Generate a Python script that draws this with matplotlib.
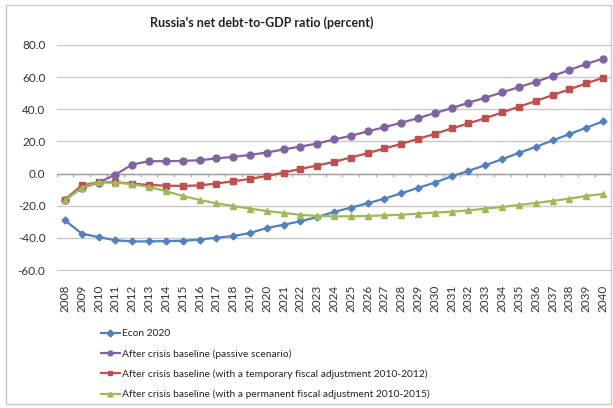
import matplotlib
matplotlib.use("Agg")
import matplotlib.pyplot as plt
from matplotlib.patches import Rectangle

years = list(range(2008, 2041))

econ_2020 = [-29.1, -37.4, -39.5, -41.5, -42.2, -42.2, -42.0, -41.8, -41.1, -39.9,
             -38.9, -37.0, -33.9, -31.8, -29.7, -27.0, -23.9, -21.2, -18.5, -15.6,
             -12.3, -8.9, -5.6, -1.7, 1.7, 5.2, 8.9, 12.9, 16.6, 20.6, 24.5, 28.5, 32.4]
passive = [-16.2, -9.0, -5.6, -0.6, 5.6, 7.7, 7.7, 7.9, 8.3, 9.4, 10.4, 11.6, 13.1,
           15.0, 16.8, 18.7, 21.2, 23.5, 26.2, 28.9, 31.6, 34.5, 37.6, 40.7, 44.1,
           47.2, 50.5, 53.8, 57.1, 60.7, 64.4, 68.2, 71.5]
temporary = [-16.2, -7.3, -5.4, -5.4, -6.2, -7.1, -7.5, -7.7, -7.3, -6.2, -4.8, -3.3,
             -1.5, 0.6, 2.9, 5.0, 7.3, 10.0, 12.7, 15.6, 18.5, 21.6, 24.7, 28.1, 31.2,
             34.5, 38.0, 41.6, 45.1, 48.8, 52.4, 56.1, 59.6]
permanent = [-16.6, -8.7, -5.4, -5.6, -6.6, -8.3, -11.0, -13.9, -16.4, -18.5, -20.2,
             -21.8, -23.3, -24.5, -25.6, -26.4, -26.6, -26.6, -26.4, -26.0, -25.6,
             -24.9, -24.3, -23.7, -22.9, -21.8, -20.8, -19.5, -18.3, -17.0, -15.6,
             -13.9, -12.7]

series_names = [
    "Econ 2020",
    "After crisis baseline (passive scenario)",
    "After crisis baseline (with a temporary fiscal adjustment 2010-2012)",
    "After crisis baseline (with a permanent fiscal adjustment 2010-2015)",
]
title = "Russia's net debt-to-GDP ratio (percent)"
y_ticks = [80, 60, 40, 20, 0, -20, -40, -60]

plt.rcParams["font.family"] = ["Lato", "DejaVu Sans"]

W, H = 613, 408
fig = plt.figure(figsize=(W / 100, H / 100), dpi=100)
ax = fig.add_axes([56.6 / W, 1 - 270.5 / H, (611.4 - 56.6) / W, (270.5 - 44.5) / H])

styles = [
    dict(color="#4F81BD", marker="D", ms=3.5, lw=1.6),
    dict(color="#8064A2", marker="o", ms=5, lw=1.6),
    dict(color="#C0504D", marker="s", ms=5, lw=1.6),
    dict(color="#9BBB59", marker="^", ms=5, lw=1.6),
]
for data, name, st in zip([econ_2020, passive, temporary, permanent], series_names, styles):
    ax.plot(years, data, label=name, **st)

ax.set_xlim(years[0] - 0.5, years[-1] + 0.5)
ax.set_ylim(-60.3, 80.3)
ax.set_yticks(y_ticks)
ax.set_yticklabels([f"{v:.1f}" for v in y_ticks], fontsize=8.5, color="#333333")
ax.set_xticks(years)
ax.set_xticklabels([str(y) for y in years], rotation=90, fontsize=8.5, color="#333333")
ax.tick_params(axis="both", length=0)
ax.tick_params(axis="y", pad=8)
ax.tick_params(axis="x", pad=10)
ax.grid(axis="y", color="#C8C8C8", lw=1)
ax.set_axisbelow(True)
for s in ax.spines.values():
    s.set_visible(False)
# category axis line at zero with tick marks
ax.axhline(0, color="#A0A0A0", lw=1, zorder=1)
for b in [y - 0.5 for y in years] + [years[-1] + 0.5]:
    ax.plot([b, b], [0, -1.6], color="#A0A0A0", lw=0.8, zorder=1)

fig.text(262 / W, 1 - 23 / H, title, ha="center", va="center", fontsize=9,
         fontweight="bold", color="#222222")

leg = fig.legend(loc="upper left", bbox_to_anchor=(101 / W, 1 - 329 / H), frameon=False,
                 fontsize=7.4, handlelength=1.8, handletextpad=0.2, labelspacing=1.05,
                 borderaxespad=0, borderpad=0)
for t in leg.get_texts():
    t.set_color("#222222")
for h in leg.legend_handles:
    h.set_markersize(3.5)

fig.patches.append(Rectangle((6 / W, 4 / H), 605 / W, 399 / H, transform=fig.transFigure,
                             fill=False, ec="#C8C8C8", lw=1))

fig.savefig("out.png", dpi=100)
